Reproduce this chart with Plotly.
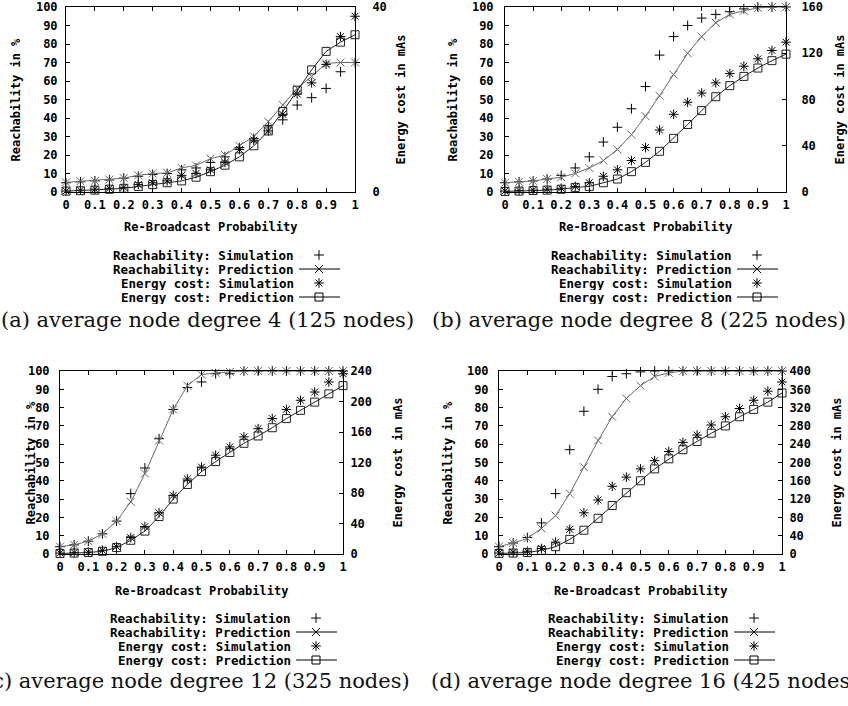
import plotly.graph_objects as go

W, H = 848, 706

# ---------------- data ----------------
prob = [0, 0.05, 0.1, 0.15, 0.2, 0.25, 0.3, 0.35, 0.4, 0.45, 0.5,
        0.55, 0.6, 0.65, 0.7, 0.75, 0.8, 0.85, 0.9, 0.95, 1.0]
x_ticks = [0, 0.1, 0.2, 0.3, 0.4, 0.5, 0.6, 0.7, 0.8, 0.9, 1]

# (a) average node degree 4 (125 nodes)
a_reach_sim = [5, 5.5, 6, 6.5, 7.5, 8.5, 9.5, 10, 12, 13, 16, 19, 24, 29, 36, 39, 47, 51, 56, 65, 70]
a_reach_pred = [5.2, 5.8, 6, 6.7, 7.5, 9, 10, 10.3, 13, 14.4, 18, 20, 25, 30, 38, 47, 56, 62.5, 69.5, 70, 70]
a_energy_sim = [0.2, 0.4, 0.6, 0.8, 1.0, 1.6, 2.0, 2.4, 3.6, 4.0, 4.8, 6.4, 9.2, 11.2, 13.2, 16.8, 21.2, 23.6, 27.6, 33.6, 38.0]
a_energy_pred = [0.2, 0.28, 0.4, 0.6, 0.8, 1.2, 1.6, 2.0, 2.4, 3.2, 4.4, 5.8, 7.6, 10.0, 13.2, 17.4, 22.0, 26.4, 30.4, 32.4, 34.0]

# (b) average node degree 8 (225 nodes)
b_reach_sim = [5, 5.5, 6, 7, 9, 13, 19, 27, 35, 45, 57, 74, 84, 90, 94, 96, 97.5, 99, 100, 100, 100]
b_reach_pred = [5, 5.5, 6, 7, 8, 10, 13, 17, 23, 31, 41, 52, 63.5, 75, 84, 91.5, 96, 98, 99.5, 100, 100]
b_energy_sim = [0.8, 1.3, 1.6, 2.4, 3.2, 4.8, 8, 13.6, 19.2, 27.2, 38.4, 53.6, 67.2, 77.6, 85.6, 94.4, 102.4, 108.8, 115.2, 122.4, 129.6]
b_energy_pred = [0.5, 0.8, 1.3, 1.6, 2.4, 4, 4.8, 8, 11.2, 17.6, 25.6, 35.2, 46.4, 58.4, 70.4, 82.4, 92, 100, 107.2, 113.6, 119.2]

# (c) average node degree 12 (325 nodes)
c_reach_sim = [4, 5, 7, 11, 18, 33, 47, 63, 79, 91, 94, 98.5, 98.5, 100, 100, 100, 100, 100, 100, 100, 100]
c_reach_pred = [4, 5, 7, 11, 18, 28.5, 44, 62, 79, 92, 98, 99, 99.5, 100, 100, 100, 100, 100, 100, 100, 100]
c_energy_sim = [1.2, 1.9, 2.4, 4.8, 9.6, 21.6, 36, 54, 76.8, 98.4, 114, 129.6, 140.4, 153.6, 164.4, 177.6, 189.6, 201.6, 212.4, 225.6, 236.4]
c_energy_pred = [0.7, 1.2, 1.9, 3.6, 8.4, 18, 30, 49.2, 72, 91.2, 108, 121.2, 133.2, 145.2, 154.8, 165.6, 177.6, 188.4, 199.2, 210, 220.8]

# (d) average node degree 16 (425 nodes)
d_reach_sim = [4, 6, 9, 17, 33, 57, 78, 90, 97, 98.5, 99.5, 100, 100, 100, 100, 100, 100, 100, 100, 100, 100]
d_reach_pred = [4, 6, 8.5, 14, 21, 33, 47.5, 62, 75, 85, 92, 97, 99, 100, 100, 100, 100, 100, 100, 100, 100]
d_energy_sim = [2, 4, 6, 12, 26, 54, 90, 118, 148, 168, 186, 204, 224, 244, 260, 282, 300, 318, 336, 356, 376]
d_energy_pred = [1.2, 2, 3.2, 8, 16, 32, 52, 78, 106, 134, 160, 186, 208, 228, 246, 264, 280, 300, 316, 332, 352]

energy_max = [40, 160, 240, 400]
captions = ["(a) average node degree 4 (125 nodes)",
            "(b) average node degree 8 (225 nodes)",
            "(c) average node degree 12 (325 nodes)",
            "(d) average node degree 16 (425 nodes)"]
legend_labels = ["Reachability: Simulation", "Reachability: Prediction",
                 "Energy cost: Simulation", "Energy cost: Prediction"]
x_title = "Re-Broadcast Probability"
y_left_title = "Reachability in %"
y_right_title = "Energy cost in mAs"

series = [
    (a_reach_sim, a_reach_pred, a_energy_sim, a_energy_pred),
    (b_reach_sim, b_reach_pred, b_energy_sim, b_energy_pred),
    (c_reach_sim, c_reach_pred, c_energy_sim, c_energy_pred),
    (d_reach_sim, d_reach_pred, d_energy_sim, d_energy_pred),
]

# ---------------- layout (pixel geometry) ----------------
boxes = [(66, 355, 7, 192), (505, 786, 7, 192), (60, 343, 371, 554), (499, 782, 371, 554)]
left_standoff = [5, 8, 7, 7]
right_standoff = [14, 12, 4, 4]
ylt_x = [15, 452, 30, 447]
yrt_x = [400, 839, 397, 836]
leg_right = [295, 733, 292, 730]
leg_rows = [[255, 269, 283, 297], [255, 269, 283, 297], [618, 632, 646, 660], [618, 632, 646, 660]]
cap_x = [207, 639, 197, 644]
cap_y = [320, 320, 681, 681]
xt_y = [227, 227, 591, 591]

MONO = "DejaVu Sans Mono"
SERIF = "DejaVu Serif"
RP_COL = "#6a6a6a"
EP_COL = "#222222"


def fx(p):
    return p / W


def fy(p):
    return 1 - p / H


fig = go.Figure()
layout = dict(width=W, height=H, margin=dict(l=0, r=0, t=0, b=0, pad=0, autoexpand=False),
              paper_bgcolor="white", plot_bgcolor="rgba(0,0,0,0)",
              showlegend=False, annotations=[])

tfont = dict(family=MONO, size=12, color="black", weight="bold")
sym = {
    0: dict(symbol="cross-thin", size=7),
    1: dict(symbol="x-thin", size=8),
    2: dict(symbol="asterisk", size=8),
    3: dict(symbol="square-open", size=8),
}

for k in range(4):
    x0, x1, y0, y1 = boxes[k]
    xn = "x" if k == 0 else f"x{k + 1}"
    xkey = "xaxis" if k == 0 else f"xaxis{k + 1}"
    yl, yr = 2 * k + 1, 2 * k + 2
    yln = "y" if yl == 1 else f"y{yl}"
    ylkey = "yaxis" if yl == 1 else f"yaxis{yl}"
    yrn = f"y{yr}"
    yrkey = f"yaxis{yr}"

    rs, rp, es, ep = series[k]
    fig.add_trace(go.Scatter(x=prob, y=rs, xaxis=xn, yaxis=yln, mode="markers",
                             name=legend_labels[0], cliponaxis=False,
                             marker=dict(color="black", line=dict(width=1, color="black"), **sym[0])))
    fig.add_trace(go.Scatter(x=prob, y=rp, xaxis=xn, yaxis=yln, mode="lines+markers",
                             name=legend_labels[1], cliponaxis=False,
                             line=dict(color=RP_COL, width=1),
                             marker=dict(color=RP_COL, line=dict(width=1, color=RP_COL), **sym[1])))
    fig.add_trace(go.Scatter(x=prob, y=es, xaxis=xn, yaxis=yrn, mode="markers",
                             name=legend_labels[2], cliponaxis=False,
                             marker=dict(color="black", line=dict(width=1, color="black"), **sym[2])))
    fig.add_trace(go.Scatter(x=prob, y=ep, xaxis=xn, yaxis=yrn, mode="lines+markers",
                             name=legend_labels[3], cliponaxis=False,
                             line=dict(color=EP_COL, width=1),
                             marker=dict(color=EP_COL, line=dict(width=1, color=EP_COL), **sym[3])))

    layout[xkey] = dict(domain=[fx(x0), fx(x1)], range=[0, 1], anchor=yln,
                        tickmode="array", tickvals=x_ticks, ticktext=[str(v) for v in x_ticks],
                        ticks="inside", ticklen=4, tickcolor="black", tickwidth=1,
                        showline=True, linecolor="black", linewidth=1, mirror="ticks",
                        showgrid=False, zeroline=False, tickfont=tfont, ticklabelstandoff=2)
    layout[ylkey] = dict(domain=[fy(y1), fy(y0)], range=[0, 100], anchor=xn,
                         tickmode="linear", tick0=0, dtick=10,
                         ticks="inside", ticklen=4, tickcolor="black", tickwidth=1,
                         showline=True, linecolor="black", linewidth=1, mirror=False,
                         showgrid=False, zeroline=False, tickfont=tfont,
                         ticklabelstandoff=left_standoff[k])
    layout[yrkey] = dict(overlaying=yln, side="right", range=[0, energy_max[k]], anchor=xn,
                         tickmode="linear", tick0=0, dtick=40,
                         ticks="inside", ticklen=4, tickcolor="black", tickwidth=1,
                         showline=True, linecolor="black", linewidth=1,
                         showgrid=False, zeroline=False, tickfont=tfont,
                         ticklabelstandoff=right_standoff[k])

    cx = (x0 + x1) / 2
    cy = (y0 + y1) / 2
    anns = layout["annotations"]
    anns.append(dict(x=fx(cx), y=fy(xt_y[k]), xref="paper", yref="paper", text=x_title,
                     showarrow=False, xanchor="center", yanchor="middle", font=tfont))
    anns.append(dict(x=fx(ylt_x[k]), y=fy(cy), xref="paper", yref="paper", text=y_left_title,
                     showarrow=False, textangle=-90, xanchor="center", yanchor="middle", font=tfont))
    anns.append(dict(x=fx(yrt_x[k]), y=fy(cy), xref="paper", yref="paper", text=y_right_title,
                     showarrow=False, textangle=-90, xanchor="center", yanchor="middle", font=tfont))
    for r in range(4):
        anns.append(dict(x=fx(leg_right[k]), y=fy(leg_rows[k][r]), xref="paper", yref="paper",
                         text=legend_labels[r], showarrow=False, xanchor="right", yanchor="middle",
                         height=14, borderpad=0,
                         font=dict(family=MONO, size=12.5, color="black", weight="bold")))
    anns.append(dict(x=fx(cap_x[k]), y=fy(cap_y[k]), xref="paper", yref="paper", text=captions[k],
                     showarrow=False, xanchor="center", yanchor="middle",
                     font=dict(family=SERIF, size=21, color="#111111")))

    # legend key samples (drawn on a full-figure pixel overlay axis)
    R = leg_right[k]
    mx = R + 24
    rows = leg_rows[k]
    fig.add_trace(go.Scatter(x=[mx], y=[rows[0]], xaxis="x5", yaxis="y9", mode="markers",
                             cliponaxis=False, hoverinfo="skip",
                             marker=dict(color="black", line=dict(width=1, color="black"), **sym[0])))
    fig.add_trace(go.Scatter(x=[R + 4, R + 45], y=[rows[1], rows[1]], xaxis="x5", yaxis="y9", mode="lines",
                             cliponaxis=False, hoverinfo="skip", line=dict(color="black", width=1)))
    fig.add_trace(go.Scatter(x=[mx], y=[rows[1]], xaxis="x5", yaxis="y9", mode="markers",
                             cliponaxis=False, hoverinfo="skip",
                             marker=dict(color="black", line=dict(width=1, color="black"), **sym[1])))
    fig.add_trace(go.Scatter(x=[mx], y=[rows[2]], xaxis="x5", yaxis="y9", mode="markers",
                             cliponaxis=False, hoverinfo="skip",
                             marker=dict(color="black", line=dict(width=1, color="black"), **sym[2])))
    fig.add_trace(go.Scatter(x=[R + 4, R + 45], y=[rows[3], rows[3]], xaxis="x5", yaxis="y9", mode="lines",
                             cliponaxis=False, hoverinfo="skip", line=dict(color="black", width=1)))
    fig.add_trace(go.Scatter(x=[mx], y=[rows[3]], xaxis="x5", yaxis="y9", mode="markers",
                             cliponaxis=False, hoverinfo="skip",
                             marker=dict(color="black", line=dict(width=1, color="black"), **sym[3])))

layout["xaxis5"] = dict(domain=[0, 1], range=[0, W], visible=False, anchor="y9", fixedrange=True)
layout["yaxis9"] = dict(domain=[0, 1], range=[H, 0], visible=False, anchor="x5", fixedrange=True)

fig.update_layout(**layout)
fig.write_html("out.html", config={"displayModeBar": False},
               post_script="document.body.style.margin='0';document.body.style.overflow='hidden';")
